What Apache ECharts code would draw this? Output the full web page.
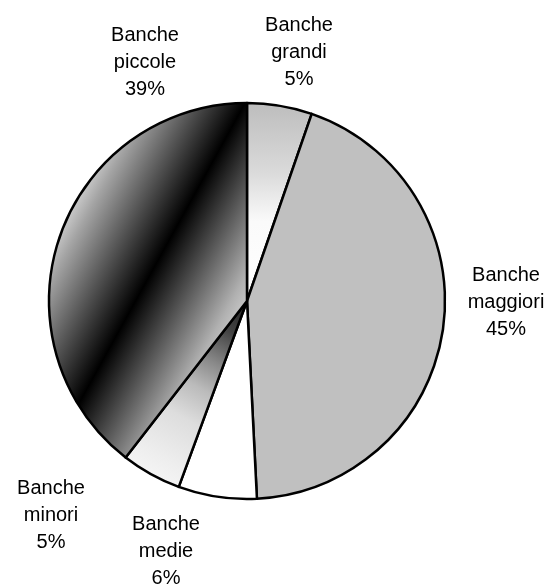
<!DOCTYPE html>
<html>
<head>
<meta charset="utf-8">
<script src="https://cdn.jsdelivr.net/npm/echarts@6/dist/echarts.min.js"></script>
<style>
html,body{margin:0;padding:0;background:#fff;}
#chart{width:549px;height:585px;}
</style>
</head>
<body>
<div id="chart"></div>
<script>
// Data
var categories = ['Banche grandi', 'Banche maggiori', 'Banche medie', 'Banche minori', 'Banche piccole'];
var labelNames = ['Banche\ngrandi', 'Banche\nmaggiori', 'Banche\nmedie', 'Banche\nminori', 'Banche\npiccole'];
var shares = [5.3, 43.9, 6.4, 4.9, 39.5];
var shareLabels = ['5%', '45%', '6%', '5%', '39%'];

// Style / layout (not data)
var CX = 247, CY = 301, R = 198;
var labelPos = [[299, 52], [506, 302], [166, 551], [51, 515], [145, 62]];

var fills = [
  { type: 'linear', global: true, x: 0, y: CY - R, x2: 0, y2: CY,
    colorStops: [{offset: 0, color: '#bdbdbd'}, {offset: 0.35, color: '#dadada'}, {offset: 0.6, color: '#fafafa'}, {offset: 1, color: '#ffffff'}] },
  '#c0c0c0',
  '#ffffff',
  { type: 'linear', global: true, x: CX, y: CY, x2: CX - 0.485 * R, y2: CY + 0.875 * R,
    colorStops: [{offset: 0, color: '#222222'}, {offset: 0.18, color: '#444444'}, {offset: 0.35, color: '#888888'}, {offset: 0.5, color: '#bbbbbb'}, {offset: 0.67, color: '#dddddd'}, {offset: 0.9, color: '#eeeeee'}, {offset: 1, color: '#f4f4f4'}] },
  { type: 'linear', global: true, x: -9.5, y: 356.6, x2: 165.5, y2: 453.4,
    colorStops: [{offset: 0, color: '#c8c8c8'}, {offset: 0.08, color: '#a4a4a4'}, {offset: 0.5, color: '#000000'}, {offset: 0.92, color: '#b0b0b0'}, {offset: 1, color: '#c8c8c8'}] }
];

var seriesData = categories.map(function (c, i) {
  return {
    name: c,
    value: shares[i],
    itemStyle: { color: fills[i] },
    label: { formatter: labelNames[i] + '\n' + shareLabels[i] }
  };
});

var chart = echarts.init(document.getElementById('chart'), null, {renderer: 'canvas'});
chart.setOption({
  animation: false,
  backgroundColor: '#ffffff',
  series: [{
    type: 'pie',
    center: [CX, CY],
    radius: [0, R],
    startAngle: 90,
    clockwise: true,
    avoidLabelOverlap: false,
    silent: true,
    data: seriesData,
    itemStyle: { borderColor: '#000000', borderWidth: 2.5, borderJoin: 'round' },
    label: {
      show: true,
      position: 'outside',
      color: '#000000',
      fontFamily: '"Liberation Sans", Arial, sans-serif',
      fontSize: 20,
      lineHeight: 27,
      align: 'center'
    },
    labelLine: { show: false },
    labelLayout: function (params) {
      var p = labelPos[params.dataIndex];
      return { x: p[0], y: p[1], align: 'center', verticalAlign: 'middle' };
    },
    emphasis: { disabled: true }
  }]
});
</script>
</body>
</html>
